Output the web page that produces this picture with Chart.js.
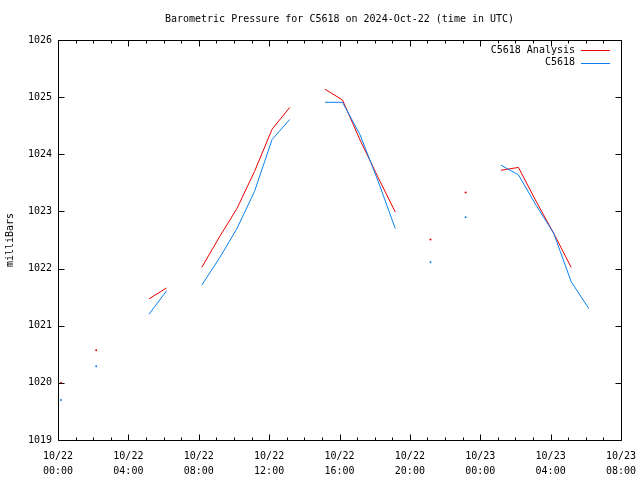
<!DOCTYPE html>
<html><head><meta charset="utf-8">
<script src="https://cdn.jsdelivr.net/npm/chart.js@4/dist/chart.umd.min.js"></script>
<style>html,body{margin:0;padding:0;background:#fff}#wrap{width:640px;height:480px}</style>
</head><body><div id="wrap"><canvas id="c" width="640" height="480"></canvas></div>
<script>
// hours since 2024-10-22 00:00 UTC
const hours = [0.17,1.17,2.17,3.17,4.17,5.17,6.17,7.17,8.17,9.17,10.17,11.17,12.17,13.17,14.17,15.17,16.17,17.17,18.17,19.17,20.17,21.17,22.17,23.17,24.17,25.17,26.17,27.17,28.17,29.17,30.17];
const analysis = [1020.0,null,1020.57,null,null,1021.47,1021.66,null,1022.02,1022.55,1023.05,1023.70,1024.44,1024.82,null,1025.14,1024.95,1024.25,1023.61,1022.99,null,1022.51,null,1023.33,null,1023.72,1023.77,1023.18,1022.62,1022.02,null];
const observed = [1019.7,null,1020.29,null,null,1021.20,1021.61,null,1021.71,1022.18,1022.70,1023.35,1024.26,1024.61,null,1024.91,1024.91,1024.34,1023.55,1022.70,null,1022.11,null,1022.90,null,1023.81,1023.64,1023.11,1022.62,1021.77,1021.30];
const xTickValues = [0,4,8,12,16,20,24,28,32];
const xTickLabels = [['10/22','00:00'],['10/22','04:00'],['10/22','08:00'],['10/22','12:00'],['10/22','16:00'],['10/22','20:00'],['10/23','00:00'],['10/23','04:00'],['10/23','08:00']];
const yTickValues = [1019,1020,1021,1022,1023,1024,1025,1026];
const seriesNames = ['C5618 Analysis','C5618'];
const titleText = 'Barometric Pressure for C5618 on 2024-Oct-22 (time in UTC)';
const yTitle = 'milliBars';

const RED = '#ee0000', BLUE = '#0a80f0';
const FONT = '"DejaVu Sans Mono", "Liberation Mono", monospace';

function isolatedRadius(ctx){
  const d = ctx.dataset.data, i = ctx.dataIndex;
  if (!d[i] || d[i].y == null) return 0;
  const p = d[i-1], n = d[i+1];
  const pe = !p || p.y == null, ne = !n || n.y == null;
  return (pe && ne) ? 1 : 0;
}

const decor = {
  id: 'decor',
  afterDraw(chart){
    const {ctx, chartArea: a, scales} = chart;
    const xs = scales.x, ys = scales.y;
    ctx.save();
    ctx.strokeStyle = '#000'; ctx.lineWidth = 1;
    const L = Math.round(a.left)+0.5, R = Math.round(a.right)+0.5, T = Math.round(a.top)+0.5, B = Math.round(a.bottom)+0.5;
    ctx.beginPath();
    ctx.rect(L, T, R-L, B-T);
    yTickValues.forEach(v=>{
      const y = Math.round(ys.getPixelForValue(v))+0.5;
      ctx.moveTo(L, y); ctx.lineTo(L+6, y);
      ctx.moveTo(R, y); ctx.lineTo(R-6, y);
    });
    for (let h=0; h<=32; h++){
      const x = Math.round(xs.getPixelForValue(h))+0.5;
      const len = (h%4===0) ? 6 : 3;
      ctx.moveTo(x, B); ctx.lineTo(x, B-len);
      ctx.moveTo(x, T); ctx.lineTo(x, T+len);
    }
    ctx.stroke();
    ctx.fillStyle = '#000';
    ctx.font = '10px ' + FONT;
    ctx.textAlign = 'center'; ctx.textBaseline = 'middle';
    ctx.fillText(titleText, (a.left+a.right)/2, 19);
    ctx.save();
    ctx.translate(10, (a.top+a.bottom)/2);
    ctx.rotate(-Math.PI/2);
    ctx.fillText(yTitle, 0, 0);
    ctx.restore();
    const colors = [RED, BLUE];
    seriesNames.forEach((name,i)=>{
      const y = 50 + i*12.5;
      ctx.textAlign = 'right';
      ctx.fillStyle = '#000';
      ctx.fillText(name, 575, y);
      ctx.strokeStyle = colors[i];
      ctx.beginPath();
      ctx.moveTo(581, Math.round(y)+0.5); ctx.lineTo(610, Math.round(y)+0.5);
      ctx.stroke();
    });
    ctx.restore();
  }
};

new Chart(document.getElementById('c'), {
  type: 'line',
  data: {
    datasets: [
      {label: seriesNames[0], data: hours.map((h,i)=>({x:h, y:analysis[i]})), borderColor: RED, backgroundColor: RED,
       borderWidth: 1, pointRadius: isolatedRadius, pointBorderWidth: 0, pointHoverRadius: 0, spanGaps: false, order: 2, tension: 0},
      {label: seriesNames[1], data: hours.map((h,i)=>({x:h, y:observed[i]})), borderColor: BLUE, backgroundColor: BLUE,
       borderWidth: 1, pointRadius: isolatedRadius, pointBorderWidth: 0, pointHoverRadius: 0, spanGaps: false, order: 1, tension: 0}
    ]
  },
  options: {
    responsive: false, animation: false, devicePixelRatio: 1,
    layout: {padding: {top: 40, right: 19, left: 0, bottom: 0}},
    plugins: {legend: {display: false}, tooltip: {enabled: false}, title: {display: false}},
    events: [],
    scales: {
      x: {
        type: 'linear', min: 0, max: 32,
        afterBuildTicks: s => { s.ticks = xTickValues.map(v=>({value:v})); },
        afterFit: s => { s.height = 40; s.paddingRight = 0; s.paddingLeft = 0; },
        ticks: {callback: (v)=> xTickLabels[xTickValues.indexOf(v)], color: '#000', maxRotation: 0, autoSkip: false,
                padding: 9, font: {family: FONT, size: 10, lineHeight: 1.5}},
        grid: {display: false, drawTicks: false}, border: {display: false}
      },
      y: {
        type: 'linear', min: 1019, max: 1026,
        afterBuildTicks: s => { s.ticks = yTickValues.map(v=>({value:v})); },
        afterFit: s => { s.width = 58; s.paddingTop = 0; s.paddingBottom = 0; },
        ticks: {callback: v => String(v), color: '#000', padding: 6, font: {family: FONT, size: 10}},
        grid: {display: false, drawTicks: false}, border: {display: false}
      }
    }
  },
  plugins: [decor]
});
</script>
</body></html>
